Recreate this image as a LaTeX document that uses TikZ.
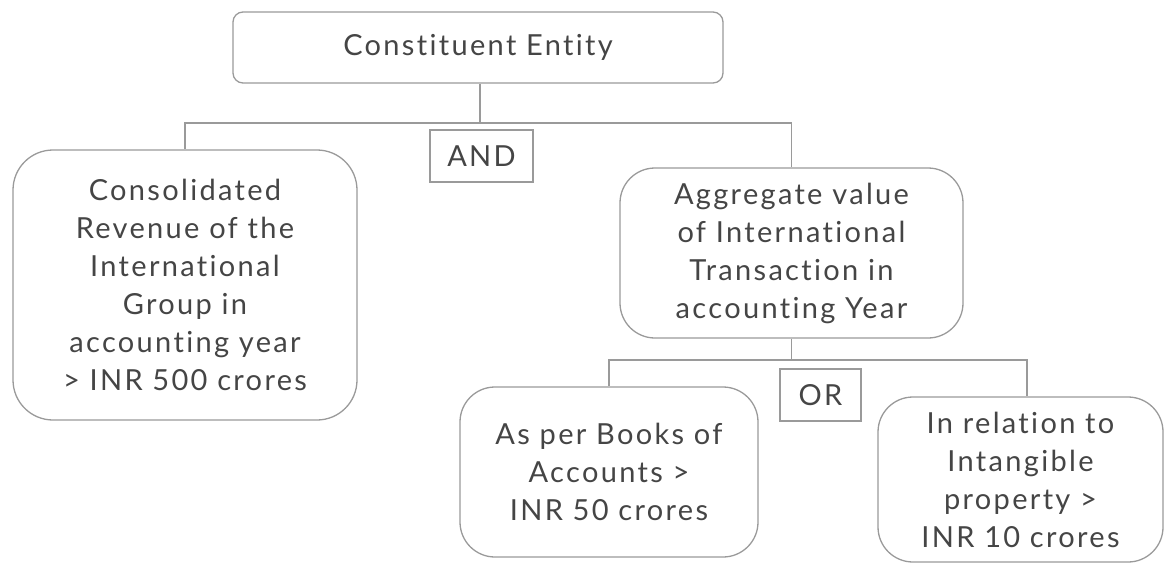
\documentclass[tikz,border=0pt]{standalone}
\usepackage{fontspec}
\setmainfont{Lato}[LetterSpace=8, Ligatures=NoCommon]
\definecolor{linegray}{HTML}{9A9A9A}
\definecolor{textgray}{HTML}{454545}
\tikzset{
    box/.style={draw=linegray, line width=1.3pt, rounded corners=35pt, inner sep=0pt,
        align=center, text=textgray, font=\fontsize{29}{38}\selectfont},
    gate/.style={draw=linegray, line width=1.3pt, inner sep=0pt, text=textgray,
        font=\fontsize{29}{38}\selectfont},
    link/.style={draw=linegray, line width=1.3pt}
}
\begin{document}
\begin{tikzpicture}[x=1pt, y=-1pt]
    \useasboundingbox (0,0) rectangle (1164,563);

    % Boxes
    \node[box, rounded corners=10pt, minimum width=490pt, minimum height=71pt] (entity) at (478,47.5) {Constituent Entity};
    \node[box, rounded corners=40pt, minimum width=344pt, minimum height=270pt] (revenue) at (185,285)
        {Consolidated\\Revenue of the\\International\\Group in\\accounting year\\> INR 500 crores};
    \node[gate, minimum width=103pt, minimum height=52pt] (and) at (481.5,156) {AND};
    \node[box, minimum width=343pt, minimum height=170pt] (aggregate) at (791.5,253)
        {Aggregate value\\of International\\Transaction in\\accounting Year};
    \node[box, minimum width=298pt, minimum height=170pt] (books) at (609,472)
        {As per Books of\\Accounts >\\INR 50 crores};
    \node[gate, minimum width=81pt, minimum height=52pt] (or) at (820.5,395) {OR};
    \node[box, minimum width=285pt, minimum height=165pt] (intangible) at (1020.5,479.5)
        {In relation to\\Intangible\\property >\\INR 10 crores};

    % Junctions
    \coordinate (j1) at (480,123);
    \coordinate (j2) at (791.5,360);

    % Connectors
    \draw[link] (entity.south -| j1) -- (j1);
    \draw[link] (revenue.north) |- (j1) -| (aggregate.north);
    \draw[link] (aggregate.south) -- (j2);
    \draw[link] (books.north) |- (j2) -| ([xshift=6.5pt]intangible.north);

\end{tikzpicture}
\end{document}
